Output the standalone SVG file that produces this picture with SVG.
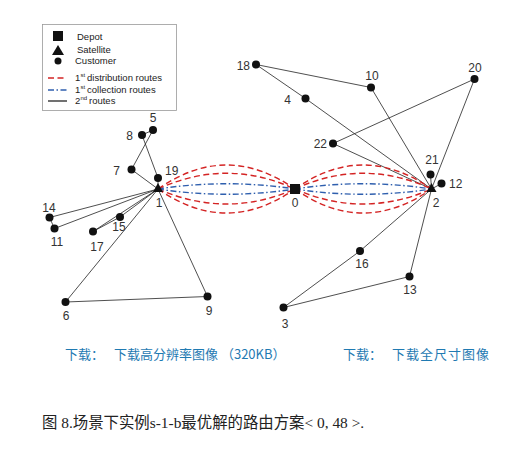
<svg xmlns="http://www.w3.org/2000/svg" width="516" height="455" viewBox="0 0 516 455">
<style>
.e{stroke:#222;stroke-width:0.8;fill:none}
.r{stroke:#d42424;stroke-width:1.4;fill:none;stroke-dasharray:6,3.5}
.b{stroke:#2f5fae;stroke-width:1.4;fill:none;stroke-dasharray:6,2.5,1.5,2.5}
.n{fill:#111}
.l{font-family:"Liberation Sans","Noto Sans",sans-serif;font-size:12px;fill:#333}
.lg{font-family:"Liberation Sans","Noto Sans",sans-serif;font-size:9.5px;fill:#222}
.sp{font-family:"Liberation Sans","Noto Sans",sans-serif;font-size:6px;fill:#222}
.dl{font-family:"Noto Sans CJK SC",sans-serif;font-size:13px;fill:#1f7ab2}
.cap{font-family:"Liberation Serif","Noto Sans CJK SC",serif;font-size:15.4px;fill:#222}
</style>
<rect width="516" height="455" fill="#fff"/>
<g id="legend">
<rect x="42.5" y="24.5" width="134" height="86" fill="#fff" stroke="#999" stroke-width="0.8"/>
<rect x="53" y="31" width="10" height="10" fill="#111"/>
<text class="lg" x="77" y="40">Depot</text>
<polygon points="58,45 64,55 52,55" fill="#111"/>
<text class="lg" x="77" y="53">Satellite</text>
<circle cx="58" cy="61" r="3.5" fill="#111"/>
<text class="lg" x="75" y="64">Customer</text>
<line x1="48" y1="78" x2="67" y2="78" class="r" stroke-dasharray="5,5"/>
<text class="lg" x="75" y="81">1</text><text class="sp" x="80.5" y="77">st</text><text class="lg" x="87" y="81">distribution routes</text>
<line x1="48" y1="90" x2="67" y2="90" class="b" stroke-dasharray="6,6,1.5,6"/>
<text class="lg" x="75" y="93">1</text><text class="sp" x="80.5" y="89">st</text><text class="lg" x="87" y="93">collection routes</text>
<line x1="48" y1="101" x2="67" y2="101" stroke="#111" stroke-width="1.2"/>
<text class="lg" x="75" y="104">2</text><text class="sp" x="80.5" y="100">nd</text><text class="lg" x="89" y="104">routes</text>
</g>
<g id="connectors">
<polyline class="e" points="158,189 158,178 142,135 153,130 131.5,169.5 158,189"/>
<polyline class="e" points="158,189 49.5,217.5 54.5,228.5 158,189"/>
<polyline class="e" points="158,189 120,217 93,231.5 158,189"/>
<polyline class="e" points="158,189 65.5,302 207.5,296.5 158,189"/>
<polyline class="e" points="431.5,189 305.5,98.5 256,64.5 371,87.5 431.5,189"/>
<polyline class="e" points="431.5,189 333,143.5 474.5,79 431.5,189"/>
<polyline class="e" points="431.5,189 430.5,174.5"/>
<polyline class="e" points="431.5,189 441.5,183.5"/>
<polyline class="e" points="431.5,189 360,251 283.5,307.5 409.5,276.5 431.5,189"/>
<path class="r" d="M158,189 C204,157 249,157 295,189"/>
<path class="r" d="M158,189 C204,168 249,168 295,189"/>
<path class="r" d="M158,189 C204,209 249,209 295,189"/>
<path class="r" d="M158,189 C204,221 249,221 295,189"/>
<path class="b" d="M158,189 C204,182 249,182 295,189"/>
<path class="b" d="M158,189 C204,196 249,196 295,189"/>
<path class="r" d="M295,189 C340,157 386,157 431.5,189"/>
<path class="r" d="M295,189 C340,168 386,168 431.5,189"/>
<path class="r" d="M295,189 C340,209 386,209 431.5,189"/>
<path class="r" d="M295,189 C340,221 386,221 431.5,189"/>
<path class="b" d="M295,189 C340,182 386,182 431.5,189"/>
<path class="b" d="M295,189 C340,196 386,196 431.5,189"/>
</g>
<g id="node0"><rect class="n" x="290" y="184" width="10" height="10"/><text class="l" x="295" y="207" text-anchor="middle">0</text></g>
<g id="node1"><polygon class="n" points="158,183 163,192 153,192"/><text class="l" x="159" y="207" text-anchor="middle">1</text></g>
<g id="node2"><polygon class="n" points="431.5,183 436.5,192 426.5,192"/><text class="l" x="436" y="207" text-anchor="middle">2</text></g>
<g id="node3"><circle class="n" cx="283.5" cy="307.5" r="4"/><text class="l" x="285" y="328" text-anchor="middle">3</text></g>
<g id="node4"><circle class="n" cx="305.5" cy="98.5" r="4"/><text class="l" x="291" y="104" text-anchor="end">4</text></g>
<g id="node5"><circle class="n" cx="153" cy="130" r="4"/><text class="l" x="153" y="122" text-anchor="middle">5</text></g>
<g id="node6"><circle class="n" cx="65.5" cy="302" r="4"/><text class="l" x="66" y="320" text-anchor="middle">6</text></g>
<g id="node7"><circle class="n" cx="131.5" cy="169.5" r="4"/><text class="l" x="120" y="175" text-anchor="end">7</text></g>
<g id="node8"><circle class="n" cx="142" cy="135" r="4"/><text class="l" x="133" y="140" text-anchor="end">8</text></g>
<g id="node9"><circle class="n" cx="207.5" cy="296.5" r="4"/><text class="l" x="209" y="315" text-anchor="middle">9</text></g>
<g id="node10"><circle class="n" cx="371" cy="87.5" r="4"/><text class="l" x="372" y="80" text-anchor="middle">10</text></g>
<g id="node11"><circle class="n" cx="54.5" cy="228.5" r="4"/><text class="l" x="57" y="246" text-anchor="middle">11</text></g>
<g id="node12"><circle class="n" cx="441.5" cy="183.5" r="4"/><text class="l" x="449" y="188">12</text></g>
<g id="node13"><circle class="n" cx="409.5" cy="276.5" r="4"/><text class="l" x="410" y="294" text-anchor="middle">13</text></g>
<g id="node14"><circle class="n" cx="49.5" cy="217.5" r="4"/><text class="l" x="49" y="212" text-anchor="middle">14</text></g>
<g id="node15"><circle class="n" cx="120" cy="217" r="4"/><text class="l" x="119" y="231" text-anchor="middle">15</text></g>
<g id="node16"><circle class="n" cx="360" cy="251" r="4"/><text class="l" x="362" y="268" text-anchor="middle">16</text></g>
<g id="node17"><circle class="n" cx="93" cy="231.5" r="4"/><text class="l" x="97" y="251" text-anchor="middle">17</text></g>
<g id="node18"><circle class="n" cx="256" cy="64.5" r="4"/><text class="l" x="250" y="70" text-anchor="end">18</text></g>
<g id="node19"><circle class="n" cx="158" cy="178" r="4"/><text class="l" x="165" y="175">19</text></g>
<g id="node20"><circle class="n" cx="474.5" cy="79" r="4"/><text class="l" x="475" y="72" text-anchor="middle">20</text></g>
<g id="node21"><circle class="n" cx="430.5" cy="174.5" r="4"/><text class="l" x="432" y="164" text-anchor="middle">21</text></g>
<g id="node22"><circle class="n" cx="333" cy="143.5" r="4"/><text class="l" x="327" y="148" text-anchor="end">22</text></g>
<g id="links">
<text class="dl" x="65" y="359">下载：</text>
<text class="dl" x="114" y="359">下载高分辨率图像 （320KB）</text>
<text class="dl" x="343" y="359">下载：</text>
<text class="dl" x="392" y="359" textLength="97" lengthAdjust="spacing">下载全尺寸图像</text>
</g>
<text class="cap" x="42" y="428">图 8.场景下实例s-1-b最优解的路由方案&lt; 0, 48 &gt;.</text>
</svg>
